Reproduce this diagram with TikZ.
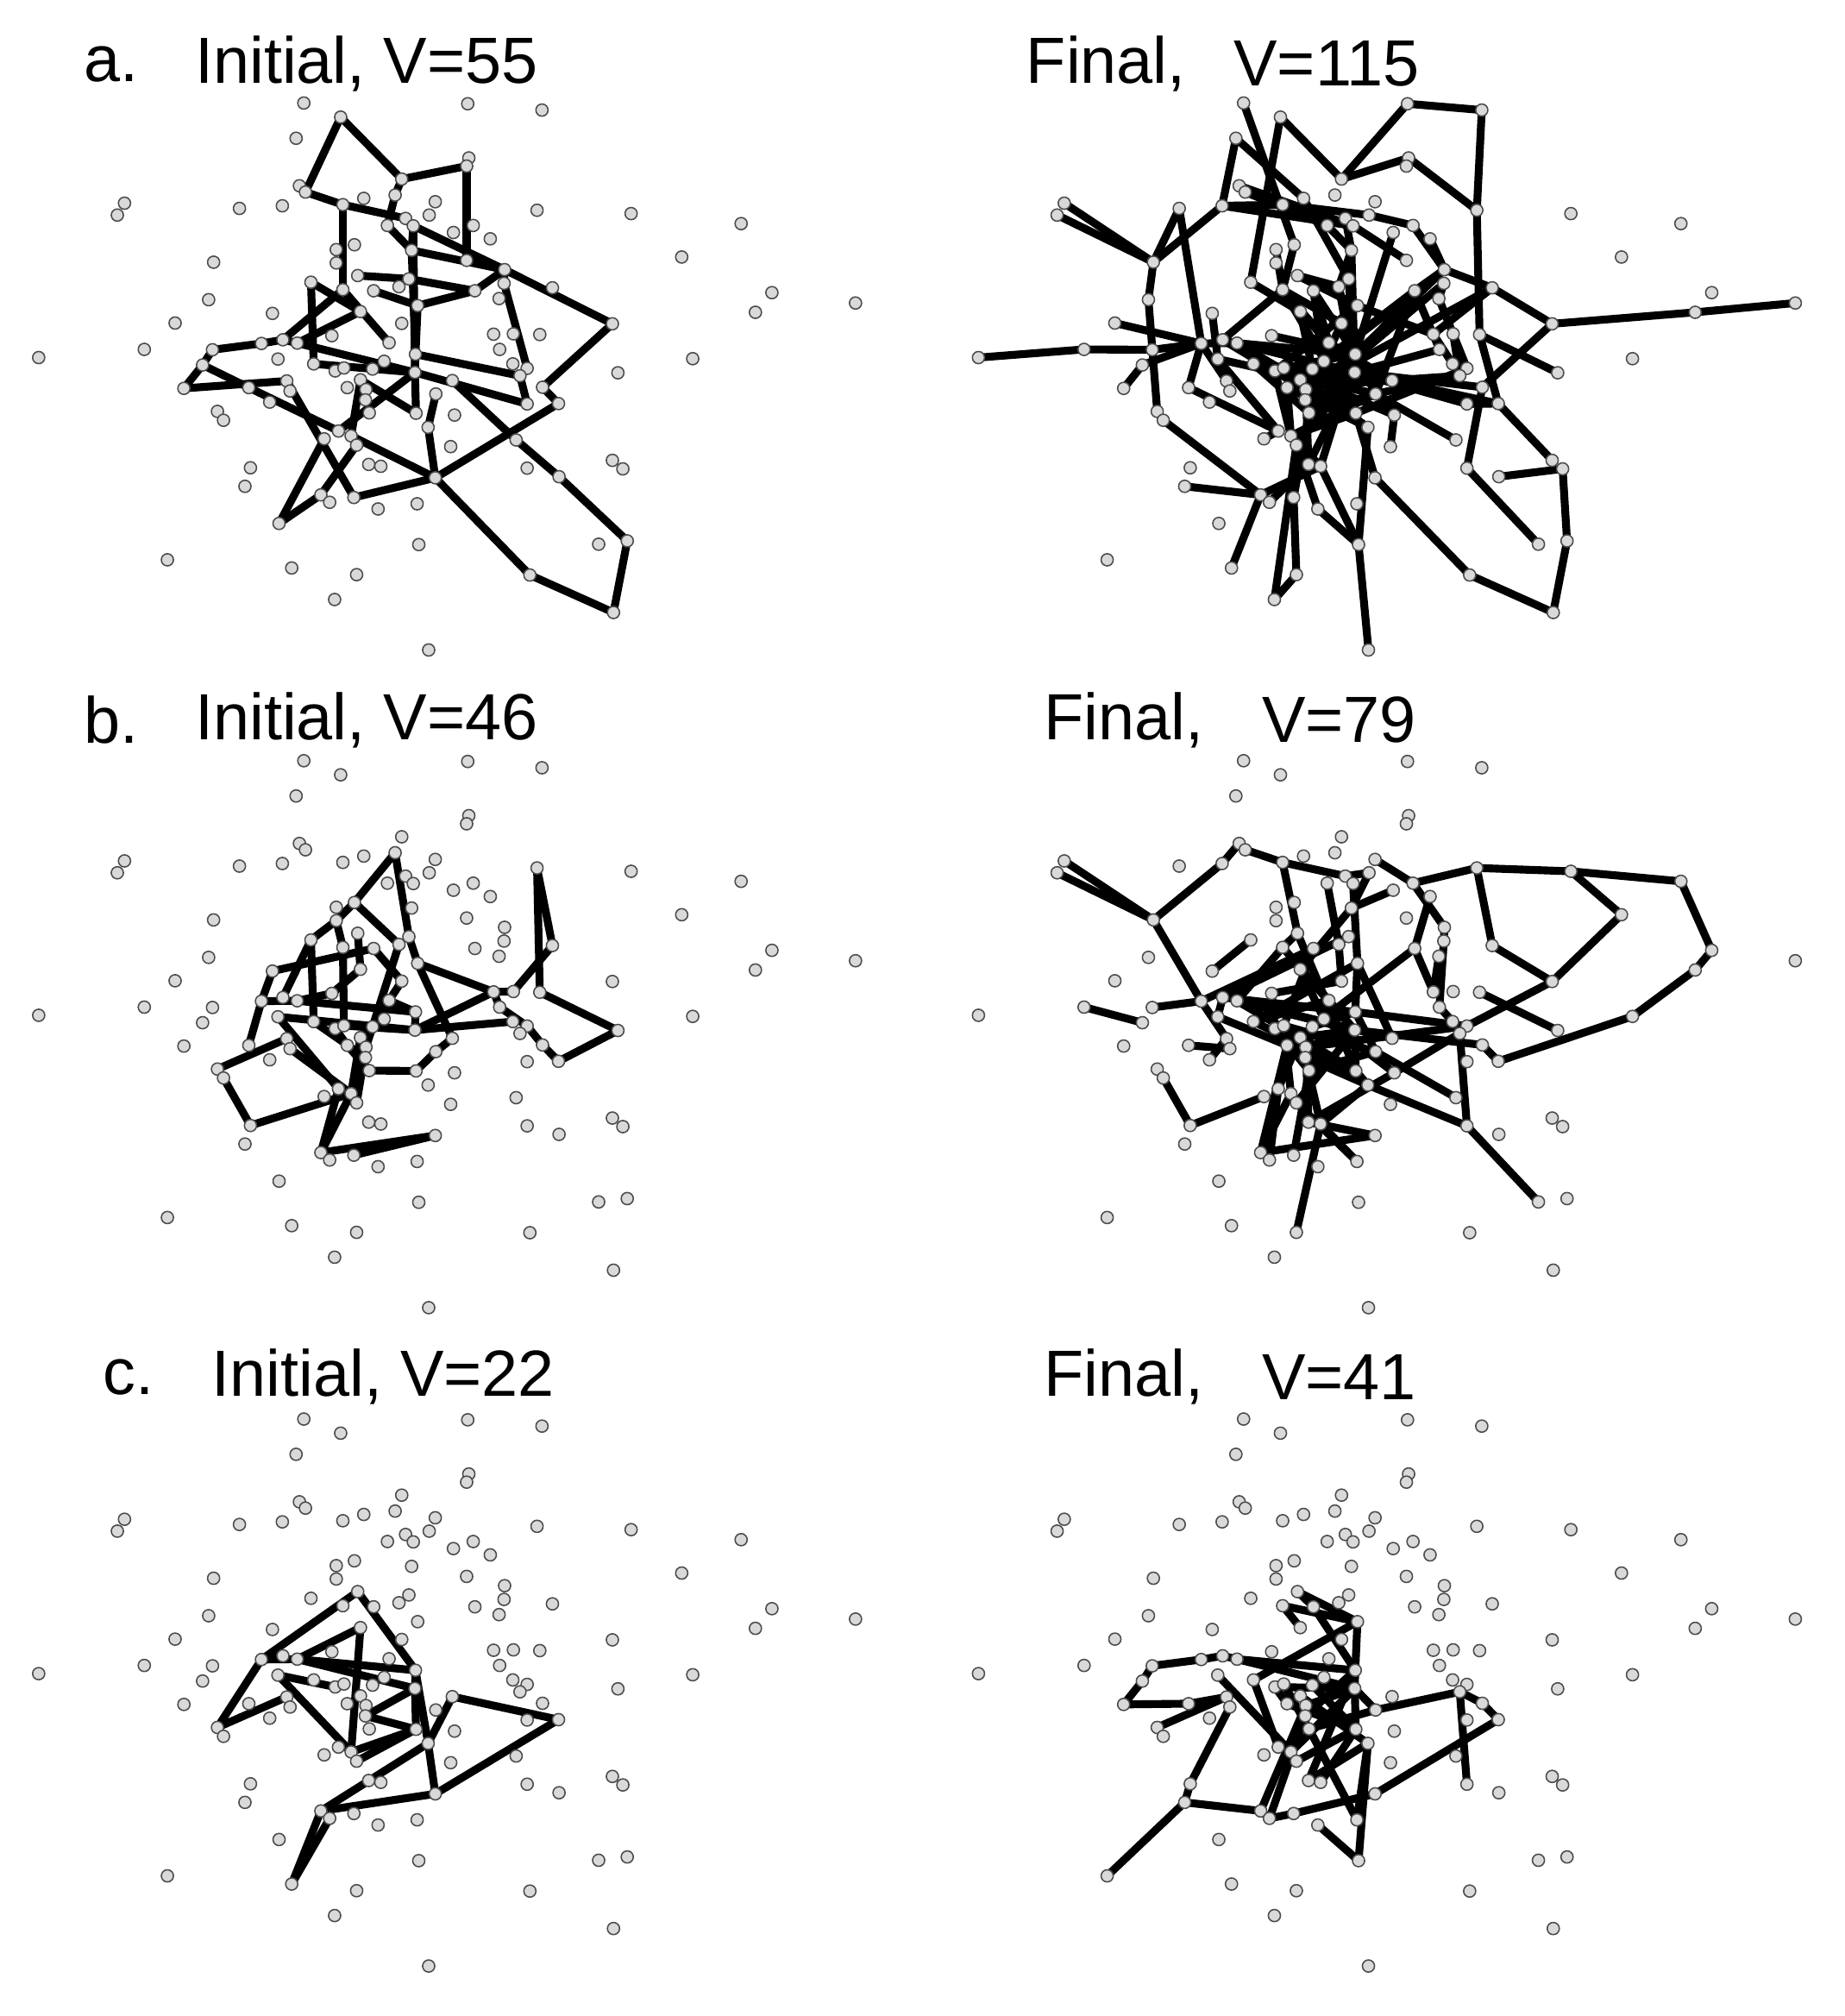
\documentclass[tikz,border=0pt]{standalone}
\usepackage{fontspec}
\setmainfont{Liberation Sans}
\begin{document}
\newcommand{\mkpts}{%
\foreach \i/\px/\py in {1/550/55,2/848/57,3/983/74,4/617/93,5/536/150,6/850/203,7/846/225,8/728/260,9/542/278,10/553/295,
11/716/303,12/659/312,13/789/321,14/224/325,15/211/357,16/433/339,17/511/332,18/621/329,19/974/344,20/1145/353,
21/1345/380,22/702/385,23/735/366,24/749/386,25/778/357,26/858/385,27/822/404,28/889/421,29/642/437,30/609/450,
31/746/452,32/609/486,33/846/479,34/386/484,35/1237/470,36/915/504,37/914/541,38/1002/553,39/648/520,40/563/538,
41/621/558,42/677/561,43/741/529,44/723/550,45/861/561,46/905/582,47/377/585,48/1401/566,49/1553/594,50/757/601,
51/653/617,52/493/622,53/1371/619,54/316/648,55/728/649,56/1111/650,57/895/678,58/931/677,59/979/679,60/473/703,
61/512/693,62/538/702,63/601/682,64/705/701,65/906/719,66/260/719,67/384/720,68/68/741,69/1257/744,70/753/732,
71/503/745,72/568/758,73/607/777,74/623/769,75/696/751,76/675/772,77/366/761,78/930/758,79/956/770,80/943/790,
81/752/781,82/1121/782,83/653/801,84/820/803,85/519/804,86/450/822,87/629/822,88/663/827,89/525/831,90/332/824,
91/984/821,92/790/839,93/662/855,94/488/861,95/956/866,96/1013/865,97/393/886,98/404/910,99/669/890,100/754/891,
101/824/896,102/776/929,103/613/939,104/636/952,105/587/960,106/646/977,107/936/963,108/817/981,109/1111/1018,110/1130/1041,
111/453/1038,112/956/1039,113/668/1029,114/690/1034,115/1014/1062,116/789/1065,117/443/1088,118/581/1111,119/641/1118,120/597/1131,
121/756/1135,122/685/1149,123/505/1188,124/759/1245,125/1086/1244,126/1138/1235,127/302/1286,128/528/1308,129/646/1326,130/961/1327,
131/606/1393,132/1113/1428,133/777/1529}{\coordinate (p\i) at (\px,\py);}}
\newcommand{\drawdots}{\foreach \i in {1,...,133}{\node[dot] at (p\i) {};}}
\begin{tikzpicture}[x=0.02cm,y=-0.02cm,
  dot/.style={circle,inner sep=0pt,minimum size=0.19cm,draw=black!70,fill=black!15,line width=0.6pt},
  edge/.style={line width=3.5pt,black,line cap=round},
  ttl/.style={anchor=west,inner sep=0pt,font=\fontsize{29}{32}\selectfont}]
\useasboundingbox (0,0) rectangle (1440,1574);
% titles
\node[ttl] (ta) at (65,50) {a.};
\node[ttl] (ta2) at (152,50) {Initial, V=55};
\node[ttl] (tar) at (801,50) {Final,};
\node[ttl] (tar2) at (963,50) {V=115};
\node[ttl] (tb) at (65,562) {b.};
\node[ttl] (tb2) at (152,562) {Initial, V=46};
\node[ttl] (tbr) at (815,562) {Final,};
\node[ttl] (tbr2) at (985,562) {V=79};
\node[ttl] (tc) at (80,1075) {c.};
\node[ttl] (tc2) at (165,1075) {Initial, V=22};
\node[ttl] (tcr) at (815,1075) {Final,};
\node[ttl] (tcr2) at (985,1075) {V=41};
% panel a left
\begin{scope}[shift={(1,64.5)},xscale=0.4295,yscale=0.2897,name prefix=AL-]
\mkpts
\foreach \a/\b in {4/10,4/8,8/7,7/33,8/11,11/22,10/18,18/23,18/41,23/24,24/36,36/56,56/91,31/36,31/70,31/24,33/36,39/43,43/45,45/36,
60/67,60/61,61/62,67/77,77/90,90/85,77/86,86/103,85/119,119/116,116/104,116/102,116/130,130/132,132/126,126/115,115/107,107/84,
105/123,123/118,118/106,40/72,40/51,51/62,96/116,96/91,37/79,37/36,81/95,81/103,81/100,81/70,81/24,62/81,22/31,41/51,42/50,50/70,
50/45,64/41,72/81,83/100,95/80,80/70,92/102,104/83,61/41}{\draw[edge] (p\a) -- (p\b);}
\drawdots
\end{scope}
% panel a right
\begin{scope}[shift={(734.8,64.5)},xscale=0.4295,yscale=0.2897,name prefix=AR-]
\mkpts
\foreach \a/\b in {68/66,66/67,67/60,49/53,53/56,56/38,56/91,14/34,15/34,34/16,34/17,34/47,16/60,47/97,97/98,98/118,2/3,3/19,19/59,2/8,
8/6,6/19,1/29,4/8,4/40,5/12,5/17,131/129,131/106,129/119,133/124,124/114,124/122,128/118,130/116,130/132,132/126,126/110,110/115,125/112,
112/91,96/109,117/118,17/18,17/24,18/25,25/26,26/36,23/31,22/31,12/43,9/24,10/22,29/41,30/41,36/38,36/45,37/46,38/57,45/65,46/79,57/78,
58/80,59/96,59/82,60/62,60/85,60/86,61/41,62/70,62/81,39/44,39/50,40/51,41/55,42/64,43/81,44/70,50/57,50/73,51/76,52/71,54/60,55/75,
63/70,64/84,70/92,70/101,71/103,72/99,73/104,74/88,75/100,76/93,77/90,77/60,81/106,81/95,83/102,84/96,85/89,86/103,87/104,88/113,92/107,
93/100,99/119,100/116,101/108,102/124,103/105,104/114,106/122,113/120,114/118,100/79,81/65,75/42,44/31,33/24,31/81,27/70,28/36,95/96,
81/99,81/87,81/83,81/41,81/51,81/44,81/61,81/91,100/88,100/76,100/73,100/62,100/104,100/41,70/42,70/88,70/74,70/36,70/93,92/73,92/99,
92/45,92/80,102/87,102/83,102/61,83/36,88/38,99/45,93/37,76/45,74/101,72/84,71/92,87/80,113/81,114/70,104/92}
{\draw[edge] (p\a) -- (p\b);}
\drawdots
\end{scope}
% panel b left
\begin{scope}[shift={(1,578)},xscale=0.4295,yscale=0.2897,name prefix=BL-]
\mkpts
\foreach \a/\b in {11/29,29/32,32/40,11/43,43/50,29/44,19/38,19/59,38/58,58/57,59/82,82/96,96/91,91/79,79/65,65/57,57/81,50/57,50/84,
52/60,60/86,52/42,97/85,97/98,98/111,111/104,116/119,116/118,118/104,71/103,71/81,40/72,32/41,41/74,39/51,51/63,63/62,62/60,61/40,
42/55,55/64,64/70,70/81,81/78,72/93,73/87,87/99,99/100,100/92,92/84,74/81,44/76,75/83,83/104,103/106,106/88,118/103,85/89,89/104,62/70,76/88}
{\draw[edge] (p\a) -- (p\b);}
\drawdots
\end{scope}
% panel b right
\begin{scope}[shift={(734.8,578)},xscale=0.4295,yscale=0.2897,name prefix=BR-]
\mkpts
\foreach \a/\b in {14/34,15/34,34/17,17/9,10/18,18/23,18/39,34/60,19/20,20/21,21/48,48/53,53/69,69/96,20/35,35/56,56/79,19/26,19/38,38/56,
59/82,96/91,26/13,116/118,129/114,125/112,112/102,112/80,97/98,98/111,111/105,121/114,23/25,25/31,26/36,36/37,37/65,65/78,78/80,
22/44,24/50,31/51,39/41,40/52,41/62,42/60,43/61,44/55,50/70,50/84,51/75,55/63,57/46,60/85,61/71,62/81,63/73,64/72,67/60,70/92,70/79,
71/87,72/88,73/99,74/104,75/101,76/93,81/106,81/100,83/103,85/94,86/89,87/118,88/113,92/107,93/114,99/119,100/102,101/80,103/120,104/118,
106/121,113/116,114/102,91/81,27/31,28/45,45/57,77/66,
81/62,81/83,81/88,81/41,81/51,100/87,100/73,100/62,100/39,70/61,70/76,92/74,92/99,102/87,102/93,84/62,88/79,76/45,74/42,72/50,113/101}
{\draw[edge] (p\a) -- (p\b);}
\drawdots
\end{scope}
% panel c left
\begin{scope}[shift={(1,1092)},xscale=0.4295,yscale=0.2897,name prefix=CL-]
\mkpts
\foreach \a/\b in {39/60,39/70,60/97,97/85,60/62,51/62,51/104,62/70,62/81,71/104,71/73,70/81,81/100,70/102,81/93,93/100,104/100,106/100,
102/116,102/118,116/118,118/128,120/128,116/96,96/84,84/102,60/61}
{\draw[edge] (p\a) -- (p\b);}
\drawdots
\end{scope}
% panel c right
\begin{scope}[shift={(734.8,1092)},xscale=0.4295,yscale=0.2897,name prefix=CR-]
\mkpts
\foreach \a/\b in {127/117,117/111,111/89,117/118,90/86,86/85,90/77,77/67,67/60,60/61,61/62,97/85,62/70,62/81,39/50,41/50,41/51,50/70,
50/72,42/70,70/81,81/100,81/92,92/80,80/91,91/96,80/112,96/116,124/122,124/102,118/120,120/119,119/116,71/104,72/103,73/87,74/99,81/104,
100/106,102/113,100/114,88/118,93/120,99/121,102/121,39/42,
81/73,81/88,100/87,100/76,102/83,70/93,92/99,113/70,104/81}
{\draw[edge] (p\a) -- (p\b);}
\drawdots
\end{scope}
\end{tikzpicture}
\end{document}
